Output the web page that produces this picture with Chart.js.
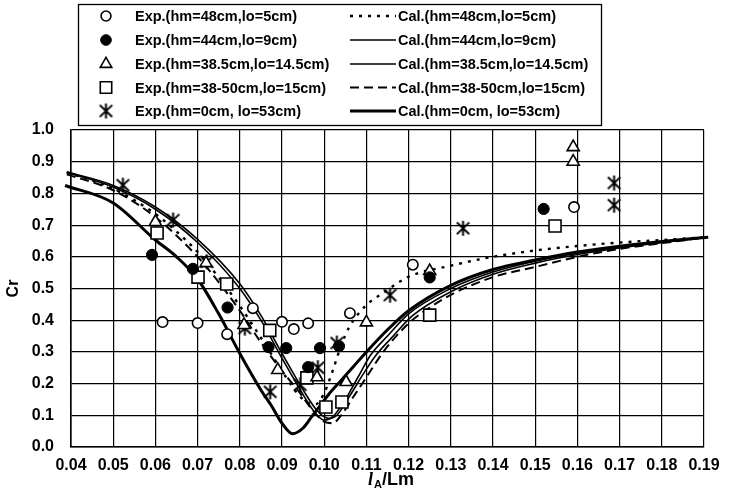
<!DOCTYPE html>
<html><head><meta charset="utf-8">
<script src="https://cdn.jsdelivr.net/npm/chart.js@4/dist/chart.umd.min.js"></script>
<style>html,body{margin:0;padding:0;background:#fff}#wrap{width:730px;height:490px}</style>
</head><body><div id="wrap"><canvas id="c" width="730" height="490"></canvas></div>
<script>
// ---- data ----
const xMin = 0.04, xMax = 0.19, xStep = 0.01;
const yMin = 0.0, yMax = 1.0, yStep = 0.1;

const labelsExp = ["Exp.(hm=48cm,lo=5cm)","Exp.(hm=44cm,lo=9cm)","Exp.(hm=38.5cm,lo=14.5cm)","Exp.(hm=38-50cm,lo=15cm)","Exp.(hm=0cm, lo=53cm)"];
const labelsCal = ["Cal.(hm=48cm,lo=5cm)","Cal.(hm=44cm,lo=9cm)","Cal.(hm=38.5cm,lo=14.5cm)","Cal.(hm=38-50cm,lo=15cm)","Cal.(hm=0cm, lo=53cm)"];

const exp48X = [0.0617,0.0700,0.0770,0.0831,0.0900,0.0928,0.0962,0.1061,0.1210,0.1592];
const exp48Y = [0.394,0.391,0.356,0.438,0.395,0.372,0.390,0.422,0.575,0.757];

const exp44X = [0.0592,0.0689,0.0771,0.0868,0.0910,0.0962,0.0990,0.1035,0.1250,0.1520];
const exp44Y = [0.606,0.562,0.440,0.315,0.312,0.252,0.312,0.318,0.535,0.751];

const exp385X = [0.0600,0.0720,0.0810,0.0890,0.0983,0.1052,0.1100,0.1250,0.1590,0.1590];
const exp385Y = [0.710,0.580,0.385,0.243,0.220,0.205,0.393,0.555,0.900,0.946];

const exp3850X = [0.0604,0.0701,0.0769,0.0871,0.0959,0.1004,0.1042,0.1250,0.1547];
const exp3850Y = [0.675,0.536,0.514,0.368,0.218,0.126,0.142,0.416,0.697];

const exp0X = [0.0523,0.0642,0.0722,0.0812,0.0872,0.0943,0.0985,0.1030,0.1156,0.1329,0.1687,0.1687];
const exp0Y = [0.826,0.716,0.584,0.375,0.174,0.196,0.250,0.328,0.479,0.690,0.833,0.763];

const cal48X = [0.0390,0.050,0.060,0.065,0.070,0.075,0.080,0.085,0.090,0.093,0.096,0.098,0.100,0.102,0.104,0.106,0.110,0.114,0.120,0.130,0.140,0.150,0.160,0.170,0.180,0.1905];
const cal48Y = [0.866,0.815,0.735,0.680,0.615,0.535,0.445,0.345,0.240,0.180,0.140,0.135,0.170,0.240,0.320,0.380,0.448,0.486,0.537,0.572,0.600,0.620,0.634,0.645,0.653,0.662];

const cal44X = [0.0390,0.050,0.060,0.070,0.080,0.085,0.090,0.095,0.098,0.100,0.102,0.105,0.108,0.111,0.115,0.120,0.130,0.140,0.150,0.160,0.170,0.180,0.1905];
const cal44Y = [0.866,0.820,0.750,0.645,0.500,0.400,0.280,0.165,0.105,0.085,0.095,0.150,0.220,0.290,0.350,0.420,0.500,0.552,0.586,0.611,0.631,0.647,0.661];

const cal385X = [0.0390,0.050,0.060,0.070,0.080,0.085,0.090,0.095,0.098,0.1000,0.1015,0.103,0.106,0.109,0.112,0.116,0.121,0.130,0.140,0.150,0.160,0.170,0.180,0.1905];
const cal385Y = [0.868,0.825,0.757,0.655,0.515,0.415,0.295,0.180,0.120,0.095,0.090,0.100,0.160,0.225,0.285,0.345,0.415,0.490,0.545,0.580,0.607,0.628,0.645,0.661];

const cal3850X = [0.0390,0.050,0.060,0.070,0.075,0.080,0.085,0.090,0.094,0.097,0.100,0.102,0.104,0.107,0.110,0.114,0.120,0.125,0.130,0.140,0.150,0.160,0.170,0.180,0.1905];
const cal3850Y = [0.860,0.810,0.725,0.600,0.520,0.430,0.330,0.240,0.175,0.120,0.080,0.075,0.100,0.160,0.220,0.300,0.390,0.440,0.480,0.536,0.568,0.600,0.625,0.643,0.661];

const cal0X = [0.0386,0.050,0.060,0.065,0.070,0.075,0.080,0.085,0.0875,0.090,0.0925,0.095,0.097,0.099,0.101,0.104,0.107,0.110,0.115,0.120,0.130,0.140,0.150,0.160,0.170,0.180,0.1910];
const cal0Y = [0.825,0.770,0.653,0.600,0.530,0.420,0.295,0.180,0.130,0.075,0.042,0.060,0.095,0.130,0.165,0.210,0.255,0.300,0.370,0.430,0.510,0.560,0.590,0.615,0.633,0.648,0.662];

// ---- helpers ----
const FONT = "'Liberation Sans','Arial',sans-serif";
const pts = (xs, ys) => xs.map((x, i) => ({x, y: ys[i]}));

function makeStar(r, lw) {
  const s = Math.ceil(2 * r + lw + 2);
  const c = document.createElement('canvas'); c.width = s; c.height = s;
  const g = c.getContext('2d');
  g.strokeStyle = '#000'; g.lineWidth = lw; g.lineCap = 'square';
  g.translate(s / 2, s / 2);
  g.beginPath();
  g.moveTo(0, -r); g.lineTo(0, r);
  const a = r * 0.85, b = r * 0.8;
  g.moveTo(-a, -b); g.lineTo(a, b);
  g.moveTo(-a, b); g.lineTo(a, -b);
  g.stroke();
  return c;
}
const starImg = makeStar(6.5, 2);

const markerStyles = [
  {pointStyle: 'circle', pointRadius: 5.2, pointBackgroundColor: '#fff', pointBorderColor: '#000', pointBorderWidth: 1.6},
  {pointStyle: 'circle', pointRadius: 5.6, pointBackgroundColor: '#000', pointBorderColor: '#000', pointBorderWidth: 1},
  {pointStyle: 'triangle', pointRadius: 7, pointBackgroundColor: '#fff', pointBorderColor: '#000', pointBorderWidth: 1.6},
  {pointStyle: 'rect', pointRadius: 8.5, pointBackgroundColor: '#fff', pointBorderColor: '#000', pointBorderWidth: 1.6},
  {pointStyle: starImg, pointRadius: 6.5, pointBackgroundColor: '#000', pointBorderColor: '#000', pointBorderWidth: 1}
];
const lineStyles = [
  {borderWidth: 2.4, borderDash: [3, 6]},
  {borderWidth: 1.6, borderDash: []},
  {borderWidth: 1.6, borderDash: []},
  {borderWidth: 2, borderDash: [9, 5]},
  {borderWidth: 3, borderDash: []}
];

const expSets = [[exp48X, exp48Y], [exp44X, exp44Y], [exp385X, exp385Y], [exp3850X, exp3850Y], [exp0X, exp0Y]];
const calSets = [[cal48X, cal48Y], [cal44X, cal44Y], [cal385X, cal385Y], [cal3850X, cal3850Y], [cal0X, cal0Y]];

const datasets = [];
expSets.forEach((s, i) => {
  datasets.push(Object.assign({
    label: labelsExp[i], data: pts(s[0], s[1]), showLine: false, order: 1
  }, markerStyles[i]));
});
calSets.forEach((s, i) => {
  datasets.push({
    label: labelsCal[i], data: pts(s[0], s[1]), showLine: true, order: 2,
    borderColor: '#000', borderWidth: lineStyles[i].borderWidth, borderDash: lineStyles[i].borderDash,
    pointRadius: 0, pointHoverRadius: 0, fill: false,
    cubicInterpolationMode: 'monotone', clip: 8
  });
});

// legend drawn as a plugin using dataset styles
const legendBox = {
  id: 'legendBox',
  afterDraw(chart) {
    const ctx = chart.ctx;
    ctx.save();
    ctx.strokeStyle = '#000'; ctx.lineWidth = 1.3;
    ctx.strokeRect(78.5, 4.5, 523, 121);
    ctx.font = "bold 14.5px " + FONT;
    ctx.fillStyle = '#000'; ctx.textBaseline = 'middle'; ctx.textAlign = 'left';
    const rows = [16, 40, 64, 87.5, 111];
    for (let i = 0; i < 5; i++) {
      const y = rows[i];
      const m = markerStyles[i];
      ctx.save();
      ctx.lineWidth = m.pointBorderWidth; ctx.strokeStyle = '#000'; ctx.fillStyle = m.pointBackgroundColor;
      Chart.helpers.drawPoint(ctx, {pointStyle: m.pointStyle, radius: m.pointRadius * 0.95, borderWidth: m.pointBorderWidth, rotation: 0}, 106, y);
      ctx.restore();
      ctx.fillText(chart.data.datasets[i].label, 135, y + 1);
      // line sample
      const l = lineStyles[i];
      ctx.save();
      ctx.lineWidth = l.borderWidth; ctx.setLineDash(l.borderDash);
      ctx.beginPath(); ctx.moveTo(350, y); ctx.lineTo(396, y); ctx.stroke();
      ctx.restore();
      ctx.fillText(chart.data.datasets[5 + i].label, 398, y + 1);
    }
    // x axis title: l_A / Lm
    ctx.textBaseline = 'alphabetic';
    ctx.font = "italic bold 18px 'Liberation Serif',serif";
    ctx.fillText('l', 368, 485);
    ctx.font = "bold 11px " + FONT;
    ctx.fillText('A', 374, 488);
    ctx.font = "bold 18px " + FONT;
    ctx.fillText('/Lm', 382, 485);
    ctx.restore();
  }
};

new Chart(document.getElementById('c'), {
  type: 'scatter',
  data: {datasets},
  plugins: [legendBox],
  options: {
    responsive: false, animation: false, devicePixelRatio: 1,
    layout: {padding: {left: 0, top: 130, right: 26, bottom: 0}},
    plugins: {legend: {display: false}, tooltip: {enabled: false}},
    scales: {
      x: {
        type: 'linear', min: xMin, max: xMax,
        afterFit: s => { s.height = 43; },
        ticks: {stepSize: xStep, color: '#000', padding: 9, maxRotation: 0, autoSkip: false,
          font: {family: FONT, size: 16, weight: 'bold'},
          callback: v => v.toFixed(2)},
        grid: {color: '#000', lineWidth: 1.2, drawTicks: false},
        border: {color: '#000', width: 1.6}
      },
      y: {
        type: 'linear', min: yMin, max: yMax,
        afterFit: s => { s.width = 71; },
        ticks: {stepSize: yStep, color: '#000', padding: 17,
          font: {family: FONT, size: 16, weight: 'bold'},
          callback: v => v.toFixed(1)},
        grid: {color: '#000', lineWidth: 1.2, drawTicks: false},
        border: {color: '#000', width: 1.6},
        title: {display: true, text: 'Cr', color: '#000', padding: {top: 4, bottom: 0},
          font: {family: FONT, size: 16, weight: 'bold'}}
      }
    }
  }
});
</script></body></html>
